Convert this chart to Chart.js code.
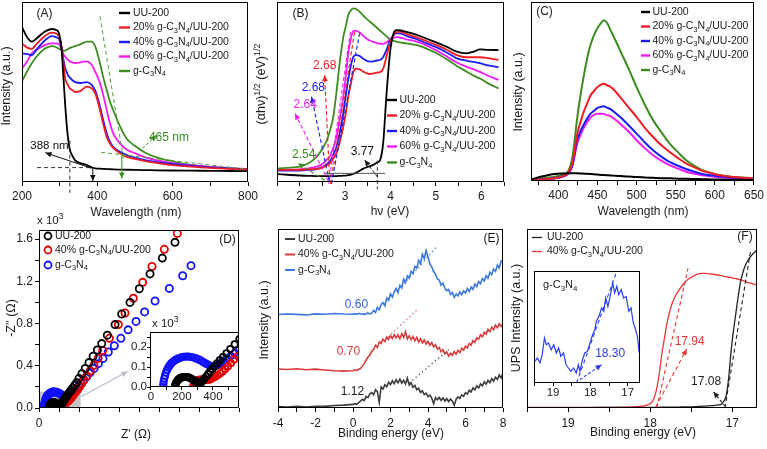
<!DOCTYPE html>
<html><head><meta charset="utf-8">
<script src="https://cdn.jsdelivr.net/npm/chart.js@4.4.1/dist/chart.umd.min.js"></script>
<style>
html,body{margin:0;padding:0;background:#fff;}
#wrap{position:relative;width:767px;height:449px;overflow:hidden;background:#fff;}
#wrap canvas{position:absolute;left:0;top:0;}
</style></head><body><div id="wrap"></div>
<script>
// ---------------- DATA ----------------
// (A) UV-vis DRS
const waveA = [200,215,226,240,260,279,290,298,305,310,315,319,323,327,334,341,355,372,385,395,407,416,425,433,442,460,478,500,530,560,600,650,700,750,800];
const uuA   = [86,80,78,80,83.5,85,84.5,82.6,74,58,42,31,23,18,14.5,12,10.5,9.4,8.2,7.6,7.4,7.3,7.2,7.1,7.0,6.9,6.8,6.7,6.6,6.5,6.4,6.3,6.2,6.1,6.0];
const p20A  = [77,74.5,74,77,81,83,82.5,81,75,66,57,55,53.5,52,51,50,50.5,53,52,49,40,32,25,21.5,19,16,14,12.8,11.5,10.5,9.4,8.5,7.8,7.3,7.0];
const p40A  = [71.5,71,70.5,74,78.5,81,80.5,79.5,74,68,63,61,59,58,56.5,55.5,55,55.5,54,50.5,42,34,27,22.5,19.5,16.8,15,13.5,12,11,10,9,8.2,7.6,7.0];
const p60A  = [63,67.5,71.5,73.5,76,77,77,76.5,74,71,69.5,68.5,67.8,67,66.5,66,66.5,67,65,61,55,48,40,33,27,21.5,18,16,13.5,12,10.5,9.3,8.4,7.7,7.2];
const cnA   = [56,62,66,70,74,75.5,75,74,73.5,73,73,73.5,74,74.5,75,75.5,76.5,78,78,75,66,58,51,45,40,31,24,20,16,13.5,11.5,9.5,8.3,7.6,7.2];
// (B) Tauc plot
const evB   = [1.52,1.8,2.0,2.2,2.37,2.5,2.6,2.66,2.74,2.81,2.88,2.96,3.02,3.07,3.13,3.18,3.25,3.32,3.4,3.48,3.55,3.62,3.7,3.77,3.84,3.91,3.99,4.06,4.13,4.2,4.35,4.58,4.8,5.02,5.25,5.46,5.68,5.85,5.97,6.15,6.38];
const uuB   = [4.4,3.9,3.6,3.4,3.3,3.3,3.3,3.3,3.3,3.3,3.4,3.5,3.6,3.8,4.1,4.5,5.2,6.2,7.4,8.2,8.8,9.5,10.8,12.2,22,48,72,82,84.4,84.3,83.4,81.7,79.6,77.4,75,72.4,71.5,72.6,73.7,73.4,73.3];
const p20B  = [6.7,6.7,6.8,7,7.3,8,9.3,10.4,13,16,22,30.7,39,47.4,55,61,63,62.6,61.3,60.3,60,60.3,60.8,61,63,69.6,77.5,81.5,83.3,83.5,82.3,80.4,78.2,76,73.3,70.5,69.3,69.3,69.3,68.8,67.8];
const p40B  = [6.3,6.3,6.4,6.7,7.2,8.2,10,11.3,15,19.6,27,38,49,57,65,69.5,70.5,70,68.5,67.3,66.9,67,67.5,67.8,69.5,73.3,78.5,81.5,82.6,82.6,81.2,79.3,77,74.8,71.8,68.7,67.4,66.6,66,64.8,63.7];
const p60B  = [6.7,6.8,7,7.6,8.5,10,12.5,14,19,25,35,47.4,60,71.5,80,84,84,83,81.2,79.5,78.5,77.8,77.2,76.8,76.7,77.5,79,80,80.5,80.4,79.3,78,75.8,73,69.6,66.4,64,62.4,61.2,59,56.7];
const cnB   = [7.6,8,8.5,10.5,14,18.5,23.3,28,36.3,50,66,80.5,87,92.8,95.5,96.5,96,94.6,92.5,90.5,89,87.5,85.7,84,82.6,81,79.2,78.5,78,77.6,77,76,74,71.5,68,64.5,61.3,58.8,57.5,54.8,52];
// (C) PL spectra
const nmC   = [365,380,395,405,412,418,424,429,433,437,441,445,450,455,458,462,467,473,479,490,500,510,521,532,542,553,563,574,584,595,605,620,635,650];
const uuC   = [0.9,2.6,3.9,4.2,4.3,4.3,4.3,4.2,4.1,4.0,3.9,3.8,3.6,3.4,3.3,3.2,3.1,2.9,2.8,2.5,2.2,2.0,1.8,1.6,1.5,1.3,1.2,1.1,1.0,0.9,0.8,0.7,0.6,0.6];
const p20C  = [0.3,0.8,1.5,2.6,4.3,10,26,34,39.4,43.5,47.8,50,52.5,54,54.3,53.5,52.5,50,46.8,41,35.7,30,24.6,19.8,16.3,12.8,9.8,7.6,5.7,4.4,3.3,2.4,1.8,1.5];
const p40C  = [0.3,0.8,1.5,2.5,4.0,9,22.8,28.5,32,35,37.6,39,40.8,41.5,41.7,41,40,38,35.7,31,26.5,21.8,17.2,13.5,10.7,8.5,6.7,5.2,3.9,3.2,2.6,2.0,1.6,1.2];
const p60C  = [0.3,0.8,1.5,2.4,3.8,8.5,20.9,26.5,30.2,33,35.4,36.8,37.6,37.6,37.5,36.8,36.1,34.2,32,27.5,22.8,18.5,14.4,11.2,8.9,6.9,5.2,4.1,3.2,2.6,2.1,1.6,1.2,0.9];
const cnC   = [0.5,1.5,2.4,3.5,5.2,13.5,35,50,60,69,76,81,85.5,88.5,89.8,88.5,84,78.5,72.8,62.5,52.4,43,34,27,21,16,11.7,8.5,6.1,4.5,3.3,2.4,1.9,1.5];
// (D) Nyquist plots (Z' in ohm, -Z'' in 10^3 ohm)
const uuDx  = [155,158,163,170,178,188,199,211,224,237,250,262,274,285,296,306,316,326,336,346,357,369,382,396,411,427,445,465,487,512,540,571,606,650,700,757,820,884,950,1035,1152,1253,1379,1520,1682,1868,2060];
const uuDy  = [0.002,0.012,0.022,0.031,0.038,0.044,0.048,0.05,0.05,0.049,0.046,0.041,0.035,0.029,0.024,0.021,0.02,0.024,0.032,0.042,0.052,0.064,0.077,0.09,0.104,0.118,0.134,0.15,0.168,0.19,0.213,0.24,0.28,0.325,0.375,0.43,0.49,0.55,0.61,0.69,0.79,0.89,1.0,1.13,1.27,1.42,1.569];
const p40Dx = [273,276,281,288,296,305,315,326,337,348,359,370,381,392,404,417,431,446,462,479,497,516,537,560,585,613,645,682,725,775,832,895,965,1066,1202,1303,1429,1571,1712,1899,2096];
const p40Dy = [0.002,0.012,0.02,0.027,0.032,0.035,0.037,0.037,0.036,0.035,0.035,0.036,0.038,0.042,0.047,0.053,0.06,0.068,0.078,0.09,0.104,0.12,0.138,0.155,0.175,0.2,0.23,0.265,0.305,0.35,0.405,0.47,0.545,0.66,0.79,0.9,1.04,1.19,1.34,1.503,1.654];
const cnDx  = [79,80,82,86,91,97,104,112,121,131,142,154,167,181,196,211,227,243,259,275,291,307,322,337,352,366,380,393,406,420,435,452,471,492,515,540,568,600,636,677,723,775,835,900,970,1050,1140,1240,1350,1470,1600,1758,1975,2177,2303];
const cnDy  = [0.0,0.012,0.026,0.042,0.057,0.072,0.085,0.097,0.108,0.118,0.126,0.133,0.139,0.144,0.148,0.151,0.152,0.152,0.15,0.147,0.143,0.138,0.132,0.125,0.118,0.112,0.107,0.104,0.104,0.107,0.112,0.12,0.13,0.142,0.155,0.17,0.187,0.207,0.237,0.265,0.298,0.335,0.375,0.42,0.47,0.53,0.59,0.66,0.74,0.82,0.91,1.013,1.133,1.253,1.348];
// (E) VB-XPS
const beE   = [-4,-3.5,-3,-2.5,-2,-1.5,-1,-0.5,0,0.1,0.2,0.3,0.4,0.5,0.6,0.7,0.8,0.9,1,1.1,1.2,1.3,1.4,1.5,1.6,1.7,1.8,1.9,2,2.1,2.2,2.3,2.4,2.5,2.6,2.7,2.8,2.9,3,3.1,3.2,3.3,3.4,3.5,3.6,3.7,3.8,3.9,4,4.1,4.2,4.3,4.4,4.5,4.6,4.7,4.8,4.9,5,5.1,5.2,5.3,5.4,5.5,5.6,5.7,5.8,5.9,6,6.1,6.2,6.3,6.4,6.5,6.6,6.7,6.8,6.9,7,7.1,7.2,7.3,7.4,7.5,7.6,7.7,7.8,7.9,8];
const uuE   = [0.8,0.5,0.9,0.6,1.0,0.9,1.4,1.6,2.0,2.4,2.1,3.0,3.8,4.9,4.2,6.5,5.8,7.9,8.6,7.4,10.2,9.1,3.2,11.8,10.6,13.0,11.9,14.4,13.1,15.2,13.6,15.8,14.0,16.1,13.9,15.5,13.4,16.6,12.8,14.1,11.5,12.6,10.2,11.0,8.7,9.6,7.5,8.3,6.4,7.2,5.5,2.4,5.8,4.6,5.9,4.3,5.6,3.9,5.2,3.6,5.0,3.8,1.5,4.9,6.2,5.4,7.3,6.5,8.6,7.8,9.9,9.0,11.2,10.1,12.3,11.2,13.5,12.4,14.6,13.3,15.5,14.1,16.4,15.0,17.2,15.9,18.4,16.8,19.5];
const p40E  = [21.8,21.5,21.9,21.4,21.7,21.2,20.8,20.6,20.8,21.3,20.9,21.6,22.0,23.4,24.9,26.8,28.5,29.6,31.8,32.7,35.1,33.9,37.0,36.1,38.4,37.2,39.6,38.3,40.4,38.9,41.0,39.2,40.8,38.7,41.5,39.4,42.6,38.6,40.3,38.2,39.9,37.6,39.5,36.9,38.7,36.4,38.0,35.8,37.2,35.1,36.5,34.2,35.4,32.9,33.8,31.4,32.6,30.2,31.3,29.0,30.6,29.4,31.5,30.1,32.2,31.0,33.4,32.3,34.6,33.5,36.0,35.1,37.6,36.7,39.2,38.4,40.9,39.8,42.3,41.2,43.9,42.6,45.1,43.8,46.3,44.9,47.0,45.6,47.2];
const cnE   = [52.2,52.5,52.3,52.0,52.6,52.4,52.8,52.5,52.4,52.7,52.3,52.9,52.5,52.6,52.2,52.8,53.0,52.6,53.0,54.6,53.4,56.2,54.9,57.8,58.9,57.1,61.5,60.2,63.8,62.0,64.9,66.7,64.4,68.5,67.0,71.9,70.1,73.8,72.6,76.4,75.0,79.2,78.1,82.5,80.6,85.9,83.4,88.0,84.2,80.5,78.9,76.2,74.8,72.1,71.4,68.6,69.8,66.9,65.5,66.2,63.4,64.5,61.8,63.7,62.6,64.9,63.3,65.4,64.2,66.8,65.1,67.6,66.3,69.2,67.8,70.6,69.4,72.3,71.0,73.9,72.5,75.8,74.4,77.6,76.3,79.8,78.2,82.1,81.5];
// (F) UPS
const beF   = [19.5,19.2,18.9,18.6,18.3,18.15,18.06,18.02,17.98,17.95,17.92,17.89,17.86,17.83,17.8,17.77,17.74,17.7,17.65,17.6,17.55,17.5,17.43,17.38,17.33,17.25,17.17,17.13,17.11,17.08,17.06,17.04,17.02,16.99,16.96,16.93,16.9,16.87,16.84,16.81,16.78,16.74,16.7];
const uuF   = [0.2,0.2,0.2,0.3,0.3,0.3,0.4,0.4,0.4,0.4,0.4,0.4,0.5,0.5,0.5,0.5,0.5,0.5,0.5,0.6,0.6,0.6,0.8,0.9,1.1,1.3,1.7,2.3,3.5,6,11,19,29.6,42,52,62,70.6,76,79.9,82.5,84.5,86.5,88.3];
const p40F  = [0.4,0.4,0.4,0.4,0.5,0.8,1.3,2,3.2,6,11,19,29.6,38,46.4,52.5,57.5,62,65.9,69,71.5,73,74.7,75.2,75.2,74.8,74.3,73.9,73.7,73.4,73.2,73,72.9,72.6,72.3,72,71.6,71.2,70.6,70.1,69.7,69.2,68.7];
const beFi  = [19.49,19.42,19.35,19.29,19.23,19.18,19.12,19.05,18.98,18.91,18.85,18.79,18.72,18.65,18.59,18.52,18.45,18.38,18.32,18.28,18.21,18.15,18.08,18.01,17.94,17.88,17.84,17.77,17.7,17.64,17.59,17.53,17.47,17.4,17.35,17.29,17.24,17.17,17.11,17.04,16.97,16.91,16.85,16.8,16.74,16.69];
const cnFi  = [19.3,22.3,17.9,25.3,40.2,34.2,35.7,29.7,34.2,26.8,31.2,23.8,26.8,16.3,13.4,10.4,13.4,8.9,16.3,10.4,20.8,26.8,28.2,35.7,43.1,47.6,55,59.5,67,63.9,75.9,68.4,77.3,89.3,80.4,86.3,78.8,83.3,75.9,77.3,63.9,67,53.6,49.1,41.6,26.8];

const labelsABC = ['UU-200','20% g-C_3N_4/UU-200','40% g-C_3N_4/UU-200','60% g-C_3N_4/UU-200','g-C_3N_4'];
const labelsDE  = ['UU-200','40% g-C_3N_4/UU-200','g-C_3N_4'];

// ---------------- STYLE / HELPERS ----------------
const FF = "'Liberation Sans', Arial, Helvetica, sans-serif";
const K='#000000', R='#ee1c25', B='#1c1cf5', M='#f21cf2', G='#3d8c22';
const EK='#3c3c3c', ER='#d93a3a', EB='#3b78e0';
const wrap = document.getElementById('wrap');
const EXTRA = {};

function fnt(s){ return s + 'px ' + FF; }
function parseRich(s){
  const out=[]; let i=0, buf='';
  while(i<s.length){
    const c=s[i];
    if(c==='_'||c==='^'){
      if(buf){out.push({t:buf,m:0});buf='';}
      let t;
      if(s[i+1]==='{'){ const j=s.indexOf('}',i); t=s.slice(i+2,j); i=j+1; }
      else { t=s[i+1]; i+=2; }
      out.push({t, m: c==='_'?1:2});
    } else { buf+=c; i++; }
  }
  if(buf) out.push({t:buf,m:0});
  return out;
}
function drawRich(ctx, s, x, y, size, color, align){
  const parts=parseRich(s); let w=0;
  parts.forEach(p=>{ ctx.font=fnt(p.m?size*0.72:size); p.w=ctx.measureText(p.t).width; w+=p.w; });
  let cx = align==='center'? x-w/2 : (align==='right'? x-w : x);
  ctx.fillStyle=color; ctx.textBaseline='middle'; ctx.textAlign='left';
  parts.forEach(p=>{
    ctx.font=fnt(p.m?size*0.72:size);
    const dy = p.m===1 ? size*0.32 : (p.m===2 ? -size*0.38 : 0);
    ctx.fillText(p.t, cx, y+dy); cx+=p.w;
  });
}
function head(ctx,a,b,c){
  const ang=Math.atan2(b[1]-a[1], b[0]-a[0]); const L=6, W=2.8;
  ctx.setLineDash([]); ctx.fillStyle=c; ctx.beginPath();
  ctx.moveTo(b[0],b[1]);
  ctx.lineTo(b[0]-L*Math.cos(ang)+W*Math.sin(ang), b[1]-L*Math.sin(ang)-W*Math.cos(ang));
  ctx.lineTo(b[0]-L*Math.cos(ang)-W*Math.sin(ang), b[1]-L*Math.sin(ang)+W*Math.cos(ang));
  ctx.closePath(); ctx.fill();
}
function drawItems(ch, items){
  const ctx=ch.ctx, X=ch.scales.x, Y=ch.scales.y;
  const P=p=>[X.getPixelForValue(p[0]), Y.getPixelForValue(p[1])];
  items.forEach(it=>{
    ctx.save();
    if(it.k==='l'){
      const a=P(it.p[0]), b=P(it.p[1]);
      ctx.strokeStyle=it.c; ctx.lineWidth=it.w||1.2; ctx.setLineDash(it.d||[]);
      ctx.beginPath(); ctx.moveTo(a[0],a[1]); ctx.lineTo(b[0],b[1]); ctx.stroke();
      if(it.h) head(ctx,a,b,it.c);
    } else if(it.k==='r'){
      const a=P(it.p[0]), b=P(it.p[1]);
      ctx.fillStyle=it.c; ctx.fillRect(Math.min(a[0],b[0]),Math.min(a[1],b[1]),Math.abs(b[0]-a[0]),Math.abs(b[1]-a[1]));
    } else if(it.k==='t'){
      const a=P([it.x,it.y]); drawRich(ctx,it.s,a[0],a[1],it.f||12,it.c||'#000',it.a||'center');
    }
    ctx.restore();
  });
}
const annPlugin = {
  id:'annp',
  beforeDatasetsDraw(ch){
    const e=EXTRA[ch.canvas.id]||{}, ctx=ch.ctx, a=ch.chartArea;
    if(e.bg){ ctx.save(); ctx.fillStyle='#fff'; ctx.fillRect(a.left,a.top,a.right-a.left,a.bottom-a.top); ctx.restore(); }
    if(e.under) drawItems(ch, e.under);
  },
  afterDatasetsDraw(ch){ const e=EXTRA[ch.canvas.id]||{}; if(e.ann) drawItems(ch, e.ann); },
  afterDraw(ch){
    const e=EXTRA[ch.canvas.id]||{}, ctx=ch.ctx, a=ch.chartArea;
    ctx.save();
    ctx.strokeStyle='#000'; ctx.lineWidth=1; ctx.setLineDash([]);
    ctx.strokeRect(Math.round(a.left)+0.5, Math.round(a.top)+0.5, Math.round(a.right-a.left)-1, Math.round(a.bottom-a.top)-1);
    (e.txt||[]).forEach(t=>{
      ctx.save();
      if(t.rot){ ctx.translate(t.x,t.y); ctx.rotate(-Math.PI/2); drawRich(ctx,t.s,0,0,t.f||12,t.c||'#1a1a1a','center'); }
      else drawRich(ctx,t.s,t.x,t.y,t.f||12,t.c||'#1a1a1a',t.a||'center');
      ctx.restore();
    });
    const L=e.leg;
    if(L){
      L.items.forEach((it,i)=>{
        const y=L.ys[i];
        if(L.circle){
          ctx.beginPath(); ctx.strokeStyle=it.c; ctx.lineWidth=1.8; ctx.arc(L.x0,y,3.5,0,Math.PI*2); ctx.stroke();
        } else {
          ctx.beginPath(); ctx.strokeStyle=it.c; ctx.lineWidth=L.lw||2.4; ctx.moveTo(L.x0,y); ctx.lineTo(L.x1,y); ctx.stroke();
        }
        drawRich(ctx,it.s,L.tx,y,L.f||10.5,'#1a1a1a','left');
      });
    }
    ctx.restore();
  }
};
function lab(every, dec){
  return function(v){ const r=v/every; return Math.abs(r-Math.round(r))<1e-6 ? Number(v).toFixed(dec) : ''; };
}
function sc(axis, o){
  return {
    type:'linear', display: o.show!==false, min:o.min, max:o.max, reverse:!!o.rev,
    border:{display:false},
    grid:{display:true, drawOnChartArea:false, drawTicks:true, tickLength:(o.tl!==undefined?o.tl:4), color:'#000', lineWidth:1},
    ticks:{display:true, stepSize:o.step, autoSkip:false, maxRotation:0, minRotation:0, includeBounds:false,
      padding:(o.pad!==undefined?o.pad:2), color:'#1a1a1a', font:{family:FF, size:(o.fs||12)}, callback:o.cb}
  };
}
function line(xs, ys, color, lw, smooth){
  return {data: xs.map((x,i)=>({x:x, y:ys[i]})), borderColor:color, backgroundColor:color, borderWidth:lw,
    pointRadius:0, showLine:true, fill:false, tension:0, cubicInterpolationMode: smooth?'monotone':'default'};
}
function dots(xs, ys, color, r){
  return {data: xs.map((x,i)=>({x:x, y:ys[i]})), borderColor:color, backgroundColor:'rgba(0,0,0,0)', borderWidth:1.8,
    pointRadius:r, pointStyle:'circle', showLine:false};
}
function makeChart(id, box, xs, ys, datasets, extra){
  const cv=document.createElement('canvas'); cv.id=id; cv.width=767; cv.height=449;
  cv.style.width='767px'; cv.style.height='449px'; wrap.appendChild(cv);
  EXTRA[id]=extra||{};
  const XH = Math.min(30, 449-box.b);
  const YW = ys.display ? Math.min(40, box.l) : 0;
  xs.afterFit = s=>{ s.height = XH; };
  ys.afterFit = s=>{ s.width = YW; };
  return new Chart(cv.getContext('2d'), {
    type:'scatter', data:{datasets:datasets},
    options:{responsive:false, animation:false, devicePixelRatio:1, events:[],
      layout:{padding:{left:box.l-YW, top:box.t, right:767-box.r, bottom:449-box.b-XH}},
      plugins:{legend:{display:false}, tooltip:{enabled:false}},
      scales:{x:xs, y:ys}},
    plugins:[annPlugin]
  });
}

// ---------------- (A) ----------------
makeChart('cA', {l:22,t:2,r:248,b:182},
  sc('x',{min:200,max:800,step:100,cb:lab(200,0),pad:3}), sc('y',{min:0,max:100,show:false}),
  [line(waveA,uuA,K,1.8,true), line(waveA,p20A,R,1.8,true), line(waveA,p40A,B,1.8,true), line(waveA,p60A,M,1.8,true), line(waveA,cnA,G,1.8,true)],
  {ann:[
    {k:'l',p:[[240,8],[390,8]],c:'#333',d:[4,3],w:1},
    {k:'l',p:[[327,23],[327,-6]],c:'#333',d:[4,3],w:1},
    {k:'l',p:[[385,7.6],[262,16.3]],c:'#111',w:1,h:true},
    {k:'l',p:[[388,8],[388,0.6]],c:'#111',w:1,h:true},
    {k:'t',x:273,y:20,s:'388 nm',f:11.5,c:'#111'},
    {k:'l',p:[[407,92],[470,12]],c:'#5a9a3a',d:[4,3],w:1},
    {k:'l',p:[[410,16.5],[800,7]],c:'#5a9a3a',d:[4,3],w:1},
    {k:'l',p:[[465,16.5],[465,2]],c:G,w:1,h:true},
    {k:'l',p:[[520,18.7],[557,26]],c:G,d:[3,2],w:1,h:true},
    {k:'t',x:590,y:24.6,s:'465 nm',f:12,c:G}
  ],
  txt:[{x:44.5,y:14,s:'(A)',f:12},{x:136,y:213,s:'Wavelength (nm)',f:12},{x:7,y:86,s:'Intensity (a.u.)',f:12.5,rot:true}],
  leg:{x0:119,x1:130,tx:133,ys:[13,27.5,42,56.5,71],f:10.5,items:[{s:labelsABC[0],c:K},{s:labelsABC[1],c:R},{s:labelsABC[2],c:B},{s:labelsABC[3],c:M},{s:labelsABC[4],c:G}]}
  });

// ---------------- (B) ----------------
makeChart('cB', {l:277,t:2,r:504,b:182},
  sc('x',{min:1.5,max:6.5,step:0.5,cb:lab(1,0),pad:3}), sc('y',{min:0,max:100,show:false}),
  [line(evB,uuB,K,1.8,true), line(evB,p20B,R,1.8,true), line(evB,p40B,B,1.8,true), line(evB,p60B,M,1.8,true), line(evB,cnB,G,1.8,true)],
  {ann:[
    {k:'l',p:[[2.68,-1],[3.21,83.5]],c:R,d:[4,2.5],w:1.1},
    {k:'l',p:[[2.70,-1],[3.32,82.6]],c:B,d:[4,2.5],w:1.1},
    {k:'l',p:[[2.64,-1],[3.12,84]],c:M,d:[4,2.5],w:1.1},
    {k:'l',p:[[2.66,1],[2.55,59.4]],c:R,d:[4,2.5],w:1.1,h:true},
    {k:'l',p:[[2.65,0.5],[2.26,47.4]],c:B,d:[4,2.5],w:1.1,h:true},
    {k:'l',p:[[2.63,0.5],[1.9,38]],c:M,d:[4,2.5],w:1.1,h:true},
    {k:'l',p:[[2.55,1],[1.96,10.4]],c:G,d:[4,2.5],w:1.1,h:true},
    {k:'l',p:[[2.55,4.8],[3.88,4.8]],c:'#555',w:1},
    {k:'l',p:[[3.71,12],[3.71,-4]],c:'#333',d:[4,2.5],w:1},
    {k:'l',p:[[3.71,2.9],[3.43,12.2]],c:'#111',d:[3,2],w:1,h:true},
    {k:'t',x:2.55,y:64.4,s:'2.68',f:12,c:R},
    {k:'t',x:2.3,y:52.4,s:'2.68',f:12,c:B},
    {k:'t',x:2.12,y:42.8,s:'2.64',f:12,c:M},
    {k:'t',x:2.09,y:15,s:'2.54',f:12,c:G},
    {k:'t',x:3.38,y:16.8,s:'3.77',f:12,c:'#111'}
  ],
  txt:[{x:300.5,y:14,s:'(B)',f:12},{x:390,y:212,s:'hν (eV)',f:12},{x:262,y:84,s:'(αhν)^{1/2} (eV)^{1/2}',f:12.5,rot:true}],
  leg:{x0:387,x1:397,tx:399.5,ys:[100,115.5,131,146.5,162.5],f:10.5,items:[{s:labelsABC[0],c:K},{s:labelsABC[1],c:R},{s:labelsABC[2],c:B},{s:labelsABC[3],c:M},{s:labelsABC[4],c:G}]}
  });

// ---------------- (C) ----------------
makeChart('cC', {l:531,t:2,r:757,b:181},
  sc('x',{min:365,max:650,step:25,cb:lab(50,0),pad:3}), sc('y',{min:0,max:100,show:false}),
  [line(nmC,uuC,K,2,true), line(nmC,p20C,R,2,true), line(nmC,p40C,B,2,true), line(nmC,p60C,M,2,true), line(nmC,cnC,G,2,true)],
  {txt:[{x:544.5,y:12,s:'(C)',f:12},{x:643,y:212,s:'Wavelength (nm)',f:12},{x:519,y:92,s:'Intensity (a.u.)',f:12.5,rot:true}],
   leg:{x0:641,x1:650,tx:652.5,ys:[12,26.5,41,55.5,70],f:10.5,items:[{s:labelsABC[0],c:K},{s:labelsABC[1],c:R},{s:labelsABC[2],c:B},{s:labelsABC[3],c:M},{s:labelsABC[4],c:G}]}
  });

// ---------------- (D) ----------------
makeChart('cD', {l:39,t:230,r:239,b:408},
  sc('x',{min:0,max:3030,step:300,cb:lab(600,0),pad:4}), sc('y',{min:0,max:1.686,step:0.2,cb:lab(0.4,1),tl:4,pad:2}),
  [dots(uuDx,uuDy,'#000',3.6), dots(p40Dx,p40Dy,'#e00000',3.6), dots(cnDx,cnDy,'#1010ff',3.6)],
  {under:[{k:'r',p:[[0,0],[630,0.155]],c:'#c4c4c4'}],
   ann:[{k:'l',p:[[636,0.107],[1340,0.345]],c:'#b8b8cc',w:1.2,h:true}],
   txt:[{x:227.5,y:240,s:'(D)',f:12},{x:136,y:435,s:"Z' (Ω)",f:12},{x:12,y:318,s:"-Z'' (Ω)",f:12.5,rot:true},{x:37,y:221,s:'x 10^{3}',f:11.5,a:'left'}],
   leg:{circle:true,x0:48,tx:55,ys:[236,250,265],f:10.5,items:[{s:labelsDE[0],c:'#000'},{s:labelsDE[1],c:'#e00000'},{s:labelsDE[2],c:'#1010ff'}]}
  });
makeChart('cDi', {l:150,t:332,r:239,b:387},
  sc('x',{min:-6,max:568,step:100,cb:lab(200,0),tl:3,pad:0,fs:11.5}), sc('y',{min:0,max:0.275,step:0.05,cb:lab(0.1,1),tl:3,pad:0,fs:11.5}),
  [dots(uuDx,uuDy,'#000',3.2), dots(p40Dx,p40Dy,'#e00000',3.2), dots(cnDx,cnDy,'#1010ff',3.2)],
  {bg:true, txt:[{x:152,y:324,s:'x 10^{3}',f:11.5,a:'left'}]});

// ---------------- (E) ----------------
makeChart('cE', {l:278,t:229,r:503,b:408},
  sc('x',{min:-4,max:8,step:1,cb:lab(2,0),pad:4}), sc('y',{min:0,max:100,show:false}),
  [line(beE,uuE,EK,1.6,false), line(beE,p40E,ER,1.6,false), line(beE,cnE,EB,1.6,false)],
  {ann:[
    {k:'l',p:[[2.6,67.8],[4.46,90.1]],c:EB,d:[1.2,3],w:1.3},
    {k:'l',p:[[1.71,38],[3.4,54.7]],c:'#e0508a',d:[1.2,3],w:1.3},
    {k:'l',p:[[3.0,14],[5.1,32.5]],c:'#444',d:[1.2,3],w:1.3},
    {k:'t',x:0.18,y:57.5,s:'0.60',f:12,c:'#2f5fe0'},
    {k:'t',x:-0.24,y:31.3,s:'0.70',f:12,c:'#d93a3a'},
    {k:'t',x:-0.03,y:8.9,s:'1.12',f:12,c:'#222'}
  ],
  txt:[{x:491.5,y:239,s:'(E)',f:12},{x:391,y:434,s:'Binding energy (eV)',f:12},{x:265,y:320,s:'Intensity (a.u.)',f:12.5,rot:true}],
  leg:{x0:285,x1:295,tx:298,ys:[239,254.5,270],f:10.5,lw:2,items:[{s:labelsDE[0],c:EK},{s:labelsDE[1],c:ER},{s:labelsDE[2],c:EB}]}
  });

// ---------------- (F) ----------------
makeChart('cF', {l:527,t:229,r:757,b:408},
  sc('x',{min:16.7,max:19.5,rev:true,step:0.5,cb:lab(1,0),pad:4}), sc('y',{min:0,max:100,show:false}),
  [line(beF,uuF,'#222',1.3,true), line(beF,p40F,'#ee3333',1.3,true)],
  {ann:[
    {k:'l',p:[[17.92,0],[17.54,78]],c:'#ee3333',d:[4,3],w:1.1},
    {k:'l',p:[[17.93,0.7],[17.555,33]],c:'#ee3333',d:[4,3],w:1.1,h:true},
    {k:'l',p:[[17.09,0],[16.78,87.3]],c:'#222',d:[4,3],w:1.1},
    {k:'l',p:[[17.09,1],[17.23,9.1]],c:'#222',d:[3,2],w:1.1,h:true},
    {k:'t',x:17.52,y:36.9,s:'17.94',f:12,c:'#ee3333'},
    {k:'t',x:17.32,y:14.5,s:'17.08',f:12,c:'#222'}
  ],
  txt:[{x:745,y:237,s:'(F)',f:12},{x:643,y:433,s:'Binding energy (eV)',f:12},{x:517,y:318,s:'UPS Intensity (a.u.)',f:12.5,rot:true}],
  leg:{x0:532,x1:542,tx:547,ys:[237.5,251.5],f:10.5,lw:1.3,items:[{s:labelsDE[0],c:'#222'},{s:labelsDE[1],c:'#ee3333'}]}
  });
makeChart('cFi', {l:534,t:271,r:640,b:383},
  sc('x',{min:16.67,max:19.51,rev:true,step:0.5,cb:lab(1,0),tl:3,pad:0,fs:11.5}), sc('y',{min:0,max:100,show:false}),
  [line(beFi,cnFi,'#2a3ef0',1.2,false)],
  {bg:true,
   ann:[
    {k:'l',p:[[18.37,0],[17.29,100]],c:'#2a3ef0',d:[4,3],w:1.1},
    {k:'l',p:[[18.28,3],[17.7,16.3]],c:'#2a3ef0',d:[3,2],w:1.1,h:true},
    {k:'t',x:17.47,y:26.2,s:'18.30',f:12,c:'#2a3ef0'}
   ],
   txt:[{x:543,y:285,s:'g-C_3N_4',f:11,a:'left'}]});
</script></body></html>
